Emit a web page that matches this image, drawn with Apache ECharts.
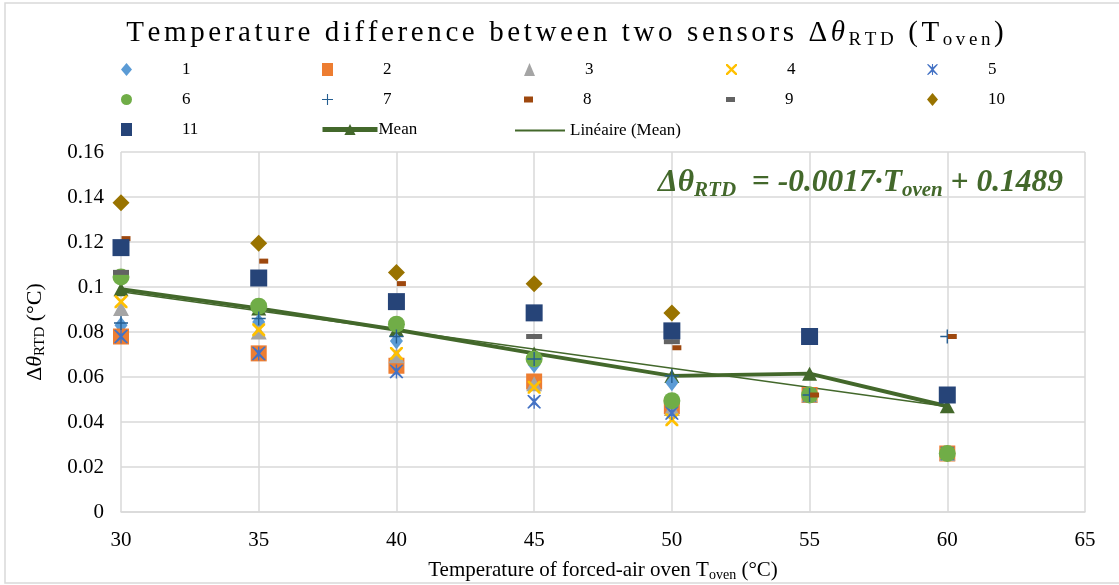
<!DOCTYPE html>
<html>
<head>
<meta charset="utf-8">
<script src="https://cdn.jsdelivr.net/npm/echarts@6/dist/echarts.min.js"></script>
<style>
  html, body { margin: 0; padding: 0; background: #fff; }
  #chart { width: 1119px; height: 585px; }
</style>
</head>
<body>
<div id="chart"></div>
<script>
// oven temperatures (x)
var temps = [30, 35, 40, 45, 50, 55, 60];

// delta theta per sensor (null = no point)
var s1  = [0.083, 0.0845, 0.076, 0.0655, 0.0575, 0.052, 0.026];
var s2  = [0.078, 0.0705, 0.065, 0.058, 0.047, 0.052, 0.026];
var s3  = [0.0905, 0.080, 0.0695, 0.057, 0.046, 0.052, 0.026];
var s4  = [0.0935, 0.081, 0.0705, 0.0555, 0.041, 0.052, 0.026];
var s5  = [0.078, 0.0705, 0.0625, 0.049, 0.044, 0.052, 0.026];
var s6  = [0.1045, 0.0915, 0.0835, 0.068, 0.0495, 0.052, 0.026];
var s7  = [0.084, 0.086, 0.078, 0.068, 0.0605, 0.052, 0.078];
var s8  = [0.1215, 0.1115, 0.1015, null, 0.073, 0.052, 0.078];
var s9  = [0.1065, null, null, 0.078, 0.0757, null, null];
var s10 = [0.1375, 0.1195, 0.1065, 0.1015, 0.0885, null, null];
var s11 = [0.1175, 0.104, 0.0935, 0.0885, 0.0805, 0.078, 0.052];
var meanVals = [0.099, 0.0905, 0.081, 0.0705, 0.0605, 0.0615, 0.047];

// linear trend (Mean) end points as drawn
var trendX = [30, 60];
var trendY = [0.0979, 0.0469];

var yTicks = [0, 0.02, 0.04, 0.06, 0.08, 0.1, 0.12, 0.14, 0.16];

var FONT = '"Liberation Serif", "DejaVu Serif", serif';
var GREEN = '#43682B';

function pts(vals) {
    var out = [];
    for (var i = 0; i < temps.length; i++) {
        if (vals[i] !== null) out.push([temps[i], vals[i]]);
    }
    return out;
}

// wrap each char in a rich token so the title gets its wide letter spacing
function spaced(str, style) {
    return str.split('').map(function (c) {
        return '{' + style + '|' + c + '}';
    }).join('');
}

// marker shapes not in echarts
var X_PATH = 'path://M0,0 L3,0 L10,7 L17,0 L20,0 L20,3 L13,10 L20,17 L20,20 L17,20 L10,13 L3,20 L0,20 L0,17 L7,10 L0,3 Z';
var STAR_PATH = 'path://M0,1 L2,0 L9,6 L9,0 L11,0 L11,6 L18,0 L20,1 L12,10 L20,19 L18,20 L11,14 L11,20 L9,20 L9,14 L2,20 L0,19 L8,10 Z';
var PLUS_PATH = 'path://M9,0 H11 V9 H20 V11 H11 V20 H9 V11 H0 V9 H9 Z';

var sensorDefs = [
    {name: '1', data: s1, symbol: 'diamond', size: [13, 17], color: '#5B9BD5'},
    {name: '2', data: s2, symbol: 'rect', size: 16, color: '#ED7D31'},
    {name: '3', data: s3, symbol: 'triangle', size: [16, 15], color: '#A5A5A5'},
    {name: '4', data: s4, symbol: X_PATH, size: 13, color: '#FFC000'},
    {name: '5', data: s5, symbol: STAR_PATH, size: 14, color: '#4472C4'},
    {name: '6', data: s6, symbol: 'circle', size: 17, color: '#70AD47'},
    {name: '7', data: s7, symbol: PLUS_PATH, size: 14, color: '#255E91'},
    {name: '8', data: s8, symbol: 'rect', size: [9, 5], color: '#9E480E', offset: [5, 0], legendH: 6},
    {name: '9', data: s9, symbol: 'rect', size: [16, 5], color: '#636363', legendH: 5},
    {name: '10', data: s10, symbol: 'diamond', size: 17, color: '#997300'},
    {name: '11', data: s11, symbol: 'rect', size: 17, color: '#264478'}
];

var series = sensorDefs.map(function (d) {
    return {
        name: d.name,
        type: 'scatter',
        data: pts(d.data),
        symbol: d.symbol,
        symbolSize: d.size,
        symbolOffset: d.offset || [0, 0],
        itemStyle: {color: d.color, opacity: 1},
        z: 3
    };
});

series.push({
    name: 'Mean',
    type: 'line',
    data: pts(meanVals),
    symbol: 'triangle',
    symbolSize: [15, 14],
    showAllSymbol: true,
    lineStyle: {color: GREEN, width: 4},
    itemStyle: {color: GREEN},
    z: 2
});

series.push({
    name: 'Linéaire (Mean)',
    type: 'line',
    data: [[trendX[0], trendY[0]], [trendX[1], trendY[1]]],
    symbol: 'none',
    lineStyle: {color: GREEN, width: 1.5},
    itemStyle: {color: GREEN},
    z: 2
});

// legend grid: one legend per item
var colLeft = [116, 317, 519, 721, 922];
var rowTop = [56, 86, 116];
var legendText = {fontFamily: FONT, fontSize: 17, color: '#000'};
var legends = [];
sensorDefs.forEach(function (d, i) {
    var h = d.legendH || 13;
    legends.push({
        data: [d.name],
        left: colLeft[i % 5],
        top: rowTop[Math.floor(i / 5)],
        itemWidth: d.legendH ? 9 : 11,
        itemHeight: h,
        selectedMode: false,
        textStyle: Object.assign({padding: [0, 0, 0, 45]}, legendText)
    });
});
legends.push({
    data: ['Mean'], left: 315, top: rowTop[2], itemWidth: 55, itemHeight: 14,
    selectedMode: false,
    lineStyle: {width: 5},
    textStyle: Object.assign({padding: [0, 0, 0, -4]}, legendText)
});
legends.push({
    data: [{name: 'Linéaire (Mean)', icon: 'rect'}], left: 510, top: rowTop[2] + 1, itemWidth: 50, itemHeight: 2,
    selectedMode: false,
    textStyle: Object.assign({padding: [0, 0, 0, 0]}, legendText)
});

var chart = echarts.init(document.getElementById('chart'));

var titleRich = {
    a: {fontFamily: FONT, fontSize: 29, fontWeight: 'normal', color: '#000', padding: [0, 1.8, 0, 1.8]},
    t: {fontFamily: FONT, fontSize: 29, fontWeight: 'normal', fontStyle: 'italic', color: '#000', padding: [0, 1.8, 0, 1.8]},
    s: {fontFamily: FONT, fontSize: 19, fontWeight: 'normal', color: '#000', padding: [14, 1.8, 0, 1.8]}
};

var option = {
    backgroundColor: '#fff',
    animation: false,
    title: {
        text: spaced('Temperature difference between two sensors Δ', 'a') + spaced('θ', 't') +
            spaced('RTD', 's') + spaced(' (T', 'a') + spaced('oven', 's') + spaced(')', 'a'),
        left: 560,
        top: 12,
        textAlign: 'center',
        textStyle: {fontWeight: 'normal', rich: titleRich}
    },
    legend: legends,
    grid: {left: 121, right: 34, top: 152, bottom: 73, outerBoundsMode: 'none'},
    xAxis: {
        type: 'value',
        min: 30,
        max: 65,
        interval: 5,
        name: '{a|Temperature of forced-air oven T}{s|oven}{a| (°C)}',
        nameLocation: 'middle',
        nameGap: 46,
        nameTextStyle: {
            rich: {
                a: {fontFamily: FONT, fontSize: 21, color: '#000'},
                s: {fontFamily: FONT, fontSize: 14, color: '#000', padding: [10, 0, 0, 0]}
            }
        },
        axisLine: {lineStyle: {color: '#d9d9d9', width: 1.5}},
        axisTick: {show: false},
        axisLabel: {fontFamily: FONT, fontSize: 21, color: '#000', margin: 18},
        splitLine: {lineStyle: {color: '#d9d9d9', width: 1.5}}
    },
    yAxis: {
        type: 'value',
        min: yTicks[0],
        max: yTicks[yTicks.length - 1],
        interval: 0.02,
        name: '{a|Δ}{t|θ}{s|RTD}{a| (°C)}',
        nameLocation: 'middle',
        nameRotate: 90,
        nameGap: 73,
        nameTextStyle: {
            rich: {
                a: {fontFamily: FONT, fontSize: 22, color: '#000'},
                t: {fontFamily: FONT, fontSize: 22, fontStyle: 'italic', color: '#000'},
                s: {fontFamily: FONT, fontSize: 15, color: '#000', padding: [10, 0, 0, 0]}
            }
        },
        axisLine: {show: false},
        axisTick: {show: false},
        axisLabel: {fontFamily: FONT, fontSize: 21, color: '#000', margin: 17},
        splitLine: {lineStyle: {color: '#d9d9d9', width: 1.5}}
    },
    graphic: [
        {
            type: 'rect',
            shape: {x: 5, y: 3, width: 1130, height: 580},
            style: {fill: 'none', stroke: '#d9d9d9', lineWidth: 1.5},
            silent: true
        },
        {
            type: 'text',
            left: 658,
            top: 167,
            z: 10,
            style: {
                text: '{a|Δ}{t|θ}{s|RTD}{a|  = -0.0017·T}{s|oven}{a| + 0.1489}',
                rich: {
                    a: {fontFamily: FONT, fontSize: 31.5, fontWeight: 'bold', fontStyle: 'italic', fill: GREEN},
                    t: {fontFamily: FONT, fontSize: 31.5, fontWeight: 'bold', fontStyle: 'italic', fill: GREEN},
                    s: {fontFamily: FONT, fontSize: 21, fontWeight: 'bold', fontStyle: 'italic', fill: GREEN, padding: [15, 0, 0, 0]}
                }
            }
        }
    ],
    series: series
};

chart.setOption(option);
</script>
</body>
</html>
